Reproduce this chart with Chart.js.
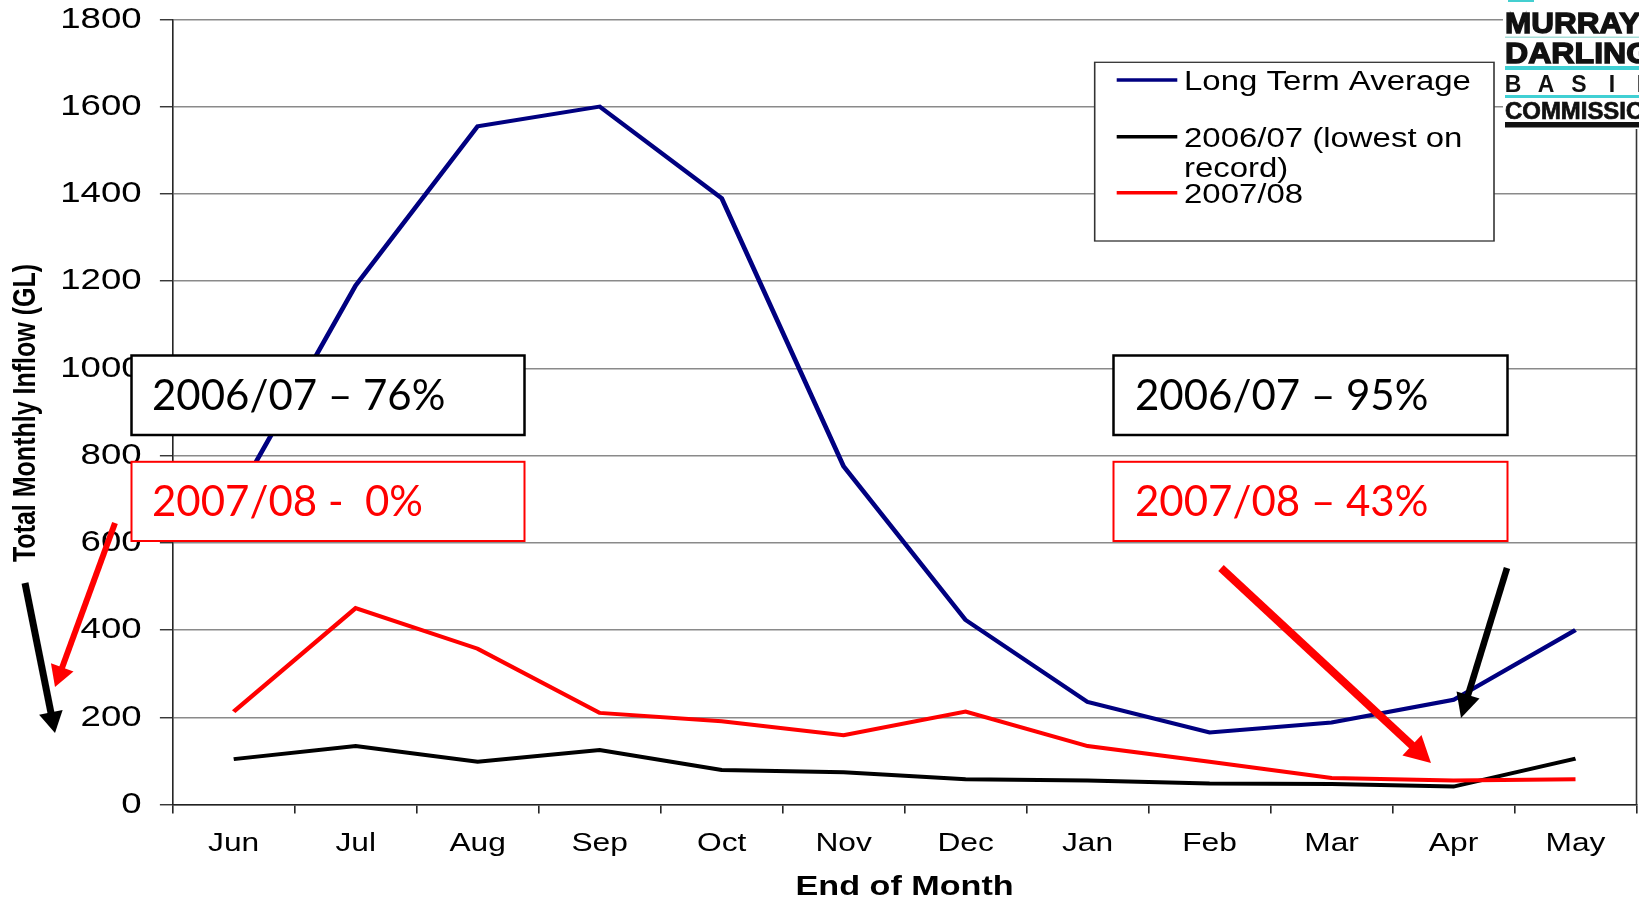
<!DOCTYPE html>
<html>
<head>
<meta charset="utf-8">
<title>Total Monthly Inflow</title>
<script src="https://cdn.jsdelivr.net/npm/chart.js@4.4.1/dist/chart.umd.min.js"></script>
<style>
  html, body { margin: 0; padding: 0; background: #fff; }
  #wrap { width: 1639px; height: 898px; overflow: hidden; }
</style>
</head>
<body>
<div id="wrap"><canvas id="inflow" width="1639" height="898"></canvas></div>
<script>
// monthly inflows (GL)
const months = ['Jun', 'Jul', 'Aug', 'Sep', 'Oct', 'Nov', 'Dec', 'Jan', 'Feb', 'Mar', 'Apr', 'May'];
const longTermAverage = [695, 1190, 1555, 1600, 1390, 775, 423, 235, 165, 188, 240, 400];
const lowest0607 = [104, 134, 98, 125, 79, 74, 58, 55, 48, 47, 41, 105];
const inflow0708 = [213, 450, 357, 210, 191, 159, 213, 134, 98, 61, 55, 58];
const yTickValues = [0, 200, 400, 600, 800, 1000, 1200, 1400, 1600, 1800];
const seriesLabels = ['Long Term Average', '2006/07 (lowest on record)', '2007/08'];
const seriesColours = ['#000080', '#000000', '#ff0000'];
const callouts = ['2006/07 – 76%', '2007/08 -  0%', '2006/07 – 95%', '2007/08 – 43%'];

// the slide's chart text is stretched sideways, so the chart is drawn in a
// narrower logical space and widened on the canvas
const SX = 1.22;
const FONT = '"Liberation Sans", Arial, sans-serif';

function wrapText(ctx, text, maxW) {
  const words = text.split(' ');
  const lines = [];
  let cur = '';
  words.forEach((w) => {
    const test = cur ? cur + ' ' + w : w;
    if (ctx.measureText(test).width > maxW && cur) {
      lines.push(cur);
      cur = w;
    } else {
      cur = test;
    }
  });
  if (cur) lines.push(cur);
  return lines;
}

function drawLegendBox(chart) {
  const ctx = chart.ctx;
  const x0 = 1094.7 / SX, x1 = 1494 / SX;
  ctx.save();
  ctx.fillStyle = '#fff';
  ctx.fillRect(x0, 62.3, x1 - x0, 178.7);
  ctx.strokeStyle = '#333';
  ctx.lineWidth = 1.3;
  ctx.strokeRect(x0, 62.3, x1 - x0, 178.7);
  ctx.font = '27px ' + FONT;
  ctx.fillStyle = '#000';
  ctx.textBaseline = 'alphabetic';
  const rows = [90, 146.7, 202.7];
  const sx0 = 1116.7 / SX, sx1 = 1177.3 / SX, tx = 1184 / SX;
  chart.data.datasets.forEach((ds, i) => {
    const y = rows[i];
    ctx.strokeStyle = ds.borderColor;
    ctx.lineWidth = 3.5;
    ctx.beginPath();
    ctx.moveTo(sx0, y - 10);
    ctx.lineTo(sx1, y - 10);
    ctx.stroke();
    wrapText(ctx, ds.label, x1 - tx - 4).forEach((ln, k) => {
      ctx.fillText(ln, tx, y + k * 30);
    });
  });
  ctx.restore();
}

function drawFrameAndTitles(chart) {
  const ctx = chart.ctx;
  const a = chart.chartArea;
  ctx.save();
  ctx.strokeStyle = '#333';
  ctx.lineWidth = 1.3;
  ctx.beginPath();
  ctx.moveTo(a.right, a.top);
  ctx.lineTo(a.right, a.bottom);
  ctx.stroke();

  ctx.fillStyle = '#000';
  ctx.textAlign = 'center';
  ctx.font = 'bold 28px ' + FONT;
  ctx.textBaseline = 'alphabetic';
  ctx.fillText('End of Month', (a.left + a.right) / 2, 895);

  ctx.translate(27 / SX, 413);
  ctx.rotate(-Math.PI / 2);
  ctx.font = 'bold 25px ' + FONT;
  ctx.textBaseline = 'middle';
  ctx.fillText('Total Monthly Inflow (GL)', 0, 0);
  ctx.restore();
}

function drawArrow(ctx, x1, y1, x2, y2, colour, width, headLen, headHalf) {
  const ang = Math.atan2(y2 - y1, x2 - x1);
  const bx = x2 - Math.cos(ang) * headLen;
  const by = y2 - Math.sin(ang) * headLen;
  ctx.save();
  ctx.strokeStyle = colour;
  ctx.fillStyle = colour;
  ctx.lineWidth = width;
  ctx.beginPath();
  ctx.moveTo(x1, y1);
  ctx.lineTo(bx + Math.cos(ang), by + Math.sin(ang));
  ctx.stroke();
  ctx.beginPath();
  ctx.moveTo(x2, y2);
  ctx.lineTo(bx + Math.sin(ang) * headHalf, by - Math.cos(ang) * headHalf);
  ctx.lineTo(bx - Math.sin(ang) * headHalf, by + Math.cos(ang) * headHalf);
  ctx.closePath();
  ctx.fill();
  ctx.restore();
}

function drawCallout(ctx, x, y, w, h, text, colour, bw, tx, ty) {
  ctx.save();
  ctx.fillStyle = '#fff';
  ctx.fillRect(x, y, w, h);
  ctx.strokeStyle = colour;
  ctx.lineWidth = bw;
  ctx.strokeRect(x, y, w, h);
  ctx.fillStyle = colour;
  ctx.font = '42px Lato, "Open Sans", sans-serif';
  ctx.textBaseline = 'alphabetic';
  ctx.fillText(text, tx, ty);
  ctx.restore();
}

function drawLogo(ctx) {
  ctx.save();
  ctx.beginPath();
  ctx.rect(1503, 0, 136, 129);
  ctx.clip();
  ctx.fillStyle = '#fff';
  ctx.fillRect(1503, 0, 136, 129);
  ctx.fillStyle = '#44cfd0';
  ctx.fillRect(1508, 0, 26, 2);
  const word = (txt, y, size, sx, heavy) => {
    ctx.save();
    ctx.translate(1505, y);
    ctx.scale(sx, 1);
    ctx.font = 'bold ' + size + 'px ' + FONT;
    ctx.fillStyle = '#111';
    ctx.fillText(txt, 0, 0);
    if (heavy) {
      ctx.strokeStyle = '#111';
      ctx.lineWidth = heavy;
      ctx.strokeText(txt, 0, 0);
    }
    ctx.restore();
  };
  word('MURRAY', 33.3, 30, 1.05, 1.4);
  ctx.fillStyle = '#a6ddd8';
  ctx.fillRect(1505, 36.5, 134, 1.5);
  word('DARLING', 63.3, 30, 1.07, 1.4);
  ctx.fillStyle = '#40d0d4';
  ctx.fillRect(1505, 66, 134, 4);
  ctx.font = 'bold 23px ' + FONT;
  ctx.fillStyle = '#111';
  ctx.textAlign = 'center';
  'BASIN'.split('').forEach((c, i) => ctx.fillText(c, 1513 + i * 33, 92));
  ctx.textAlign = 'left';
  ctx.fillStyle = '#40d0d4';
  ctx.fillRect(1505, 95, 134, 3);
  word('COMMISSION', 119, 23, 1.04, 0.7);
  ctx.fillStyle = '#111';
  ctx.fillRect(1505, 122, 134, 5.5);
  ctx.restore();
}

const slidePlugin = {
  id: 'slide',
  beforeDraw(chart) {
    chart.ctx.save();
    chart.ctx.setTransform(SX, 0, 0, 1, 0, 0);
  },
  afterDraw(chart) {
    drawFrameAndTitles(chart);
    drawLegendBox(chart);
    chart.ctx.restore();

    const ctx = chart.ctx;
    drawArrow(ctx, 25, 583, 55, 733, '#000', 7, 21, 12);
    drawArrow(ctx, 115, 523, 55, 687, '#ff0000', 6, 21, 12);
    drawCallout(ctx, 131.5, 355.5, 393, 79.5, callouts[0], '#000', 2.5, 152, 409.5);
    drawCallout(ctx, 131.5, 461.8, 393, 79.2, callouts[1], '#ff0000', 2, 152, 515.5);
    drawCallout(ctx, 1113.5, 355.5, 394, 79.5, callouts[2], '#000', 2.5, 1135, 410);
    drawCallout(ctx, 1113.5, 461.8, 394, 79.2, callouts[3], '#ff0000', 2, 1135, 516);
    drawArrow(ctx, 1221, 568, 1431, 763, '#ff0000', 8, 26, 14);
    drawArrow(ctx, 1507, 568, 1461, 718, '#000', 6.5, 24, 12);
    drawLogo(ctx);
  },
};

new Chart(document.getElementById('inflow').getContext('2d'), {
  type: 'line',
  data: {
    labels: months,
    datasets: [
      { label: seriesLabels[0], data: longTermAverage, borderColor: seriesColours[0], order: 3 },
      { label: seriesLabels[1], data: lowest0607, borderColor: seriesColours[1], order: 2 },
      { label: seriesLabels[2], data: inflow0708, borderColor: seriesColours[2], order: 1 },
    ],
  },
  options: {
    responsive: false,
    animation: false,
    events: [],
    layout: { padding: { left: 0, top: 19.3, right: 1639 - 1636.5 / SX, bottom: 0 } },
    elements: {
      point: { radius: 0 },
      line: { tension: 0, borderWidth: 4, fill: false },
    },
    plugins: { legend: { display: false }, tooltip: { enabled: false } },
    scales: {
      x: {
        offset: true,
        grid: { offset: true, drawOnChartArea: false, tickLength: 9, color: '#222', lineWidth: 1.3 },
        border: { color: '#222', width: 1.5 },
        ticks: { color: '#000', font: { family: FONT, size: 26 }, padding: 14.6, maxRotation: 0, autoSkip: false },
        afterFit: (s) => { s.height = 898 - 804.5; },
      },
      y: {
        min: 0,
        max: 1800,
        afterBuildTicks: (s) => { s.ticks = yTickValues.map((v) => ({ value: v })); },
        ticks: { color: '#000', font: { family: FONT, size: 30 }, padding: 15, callback: (v) => String(v) },
        grid: { color: '#8a8a8a', lineWidth: 1.5, tickLength: 10.5, tickColor: '#222', tickWidth: 1.3 },
        border: { color: '#222', width: 1.3 },
        afterFit: (s) => {
          s.width = 172.7 / SX;
          s.paddingTop = 0;
          s.paddingBottom = 0;
        },
      },
    },
  },
  plugins: [slidePlugin],
});
</script>
</body>
</html>
